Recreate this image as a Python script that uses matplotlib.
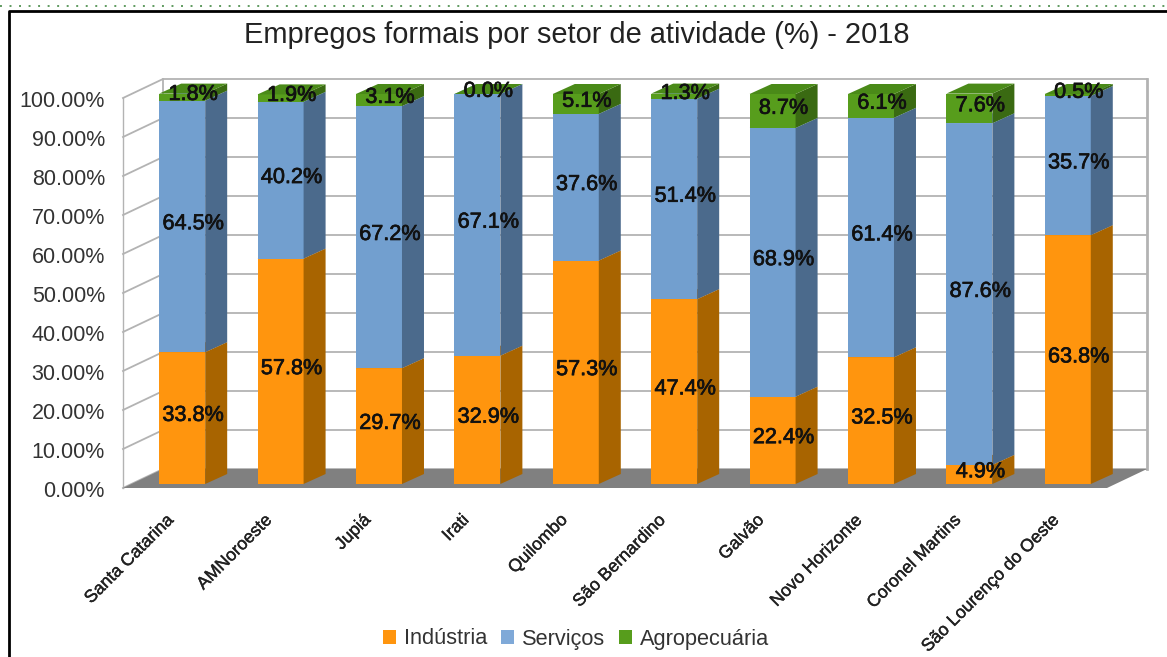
# Empregos formais por setor - fake 3D stacked bars

import matplotlib
matplotlib.use("Agg")
import matplotlib.pyplot as plt
import matplotlib.patheffects as pe
from matplotlib.patches import Polygon, Rectangle
from matplotlib.transforms import ScaledTranslation

W, H = 1167, 657

# === Data ===
regioes = ["Santa Catarina", "AMNoroeste", "Jupiá", "Irati", "Quilombo",
           "São Bernardino", "Galvão", "Novo Horizonte", "Coronel Martins",
           "São Lourenço do Oeste"]
industria = [33.8, 57.8, 29.7, 32.9, 57.3, 47.4, 22.4, 32.5, 4.9, 63.8]
servicos = [64.5, 40.2, 67.2, 67.1, 37.6, 51.4, 68.9, 61.4, 87.6, 35.7]
agropecuaria = [1.8, 1.9, 3.1, 0.0, 5.1, 1.3, 8.7, 6.1, 7.6, 0.5]
setores = ["Indústria", "Serviços", "Agropecuária"]
y_ticks = [0, 10, 20, 30, 40, 50, 60, 70, 80, 90, 100]

front = ["#ff950e", "#729fcf", "#579d1c"]
side = ["#a86400", "#4b6a8c", "#3a6a12"]
top = ["#e08000", "#86add8", "#4a8a18"]

plt.rcParams["font.family"] = "Liberation Sans"

fig = plt.figure(figsize=(W / 100, H / 100), dpi=100)
ax = fig.add_axes([123 / W, 1 - 488 / H, (1107 - 123) / W, (488 - 98) / H])
ax.set_xlim(-0.5, 9.5)
ax.set_ylim(0, 100)
ax.patch.set_visible(False)
for s in ax.spines.values():
    s.set_visible(False)

# depth of the box and of the bars, in data units
box_dx, box_dy = 40 / 98.4, 19 / 3.9
bar_off_x, bar_off_y = 9 / 98.4, 4 / 3.9
bar_dx, bar_dy = 22 / 98.4, 10 / 3.9
bar_w = 46 / 98.4

# === Walls ===
grid = "#b3b3b3"
for v in y_ticks:
    ax.plot([-0.5, -0.5 + box_dx, 9.5 + box_dx], [v, v + box_dy, v + box_dy],
            color=grid, lw=1.3, clip_on=False, zorder=1)
ax.plot([-0.5, -0.5], [0, 100], color=grid, lw=1, clip_on=False, zorder=1)
ax.plot([-0.5 + box_dx] * 2, [box_dy, 100 + box_dy], color=grid, lw=1.3, clip_on=False, zorder=1)
ax.plot([9.5 + box_dx] * 2, [box_dy, 100 + box_dy], color=grid, lw=2, clip_on=False, zorder=1)
ax.add_patch(Polygon([(-0.5, 0), (9.5, 0), (9.5 + box_dx, box_dy), (-0.5 + box_dx, box_dy)],
                     fc="#808080", ec="none", clip_on=False, zorder=2))

# === Bars ===
for i in range(len(regioes)):
    x0 = i - bar_w / 2 + bar_off_x + 0.01
    base = bar_off_y
    for k, vals in enumerate([industria, servicos, agropecuaria]):
        v = vals[i]
        z = 3 + k
        ax.add_patch(Rectangle((x0, base), bar_w, v, fc=front[k], ec="none", clip_on=False, zorder=z))
        ax.add_patch(Polygon([(x0 + bar_w, base), (x0 + bar_w + bar_dx, base + bar_dy),
                              (x0 + bar_w + bar_dx, base + bar_dy + v), (x0 + bar_w, base + v)],
                             fc=side[k], ec="none", clip_on=False, zorder=z))
        t = base + v
        ax.add_patch(Polygon([(x0, t), (x0 + bar_w, t), (x0 + bar_w + bar_dx, t + bar_dy),
                              (x0 + bar_dx, t + bar_dy)],
                             fc=top[k], ec="none", clip_on=False, zorder=z))
        ax.text(x0 + (bar_w + bar_dx) / 2, base + v / 2 + bar_dy / 2 - 0.6, f"{v:.1f}%",
                ha="center", va="center", fontsize=15.6, color="#111111", zorder=10,
                path_effects=[pe.withStroke(linewidth=0.5, foreground="#111111")])
        base = t

# === Axis text ===
ax.set_yticks(y_ticks)
ax.set_yticklabels([f"{v:.2f}%" for v in y_ticks], fontsize=15.5, color="#333333")
ax.set_xticks(range(len(regioes)))
ax.set_xticklabels(regioes, rotation=45, ha="right", rotation_mode="anchor",
                   fontsize=12.7, color="#222222")
ax.tick_params(axis="y", length=0, pad=13)
ax.tick_params(axis="x", length=0, pad=17)

# nudge tick labels a little (inches)
for lab in ax.get_yticklabels():
    lab.set_transform(lab.get_transform() + ScaledTranslation(0, -1 / 100, fig.dpi_scale_trans))
for lab in ax.get_xticklabels():
    lab.set_transform(lab.get_transform() + ScaledTranslation(-7 / 100, 0, fig.dpi_scale_trans))
    lab.set_path_effects([pe.withStroke(linewidth=0.3, foreground="#222222")])

fig.text(577 / W, 1 - 35 / H, "Empregos formais por setor de atividade (%) - 2018",
         ha="center", va="center", fontsize=20.9, color="#222222")

handles = [Rectangle((0, 0), 1, 1, fc=c, ec="none") for c in [front[0], "#7fa9d8", front[2]]]
fig.legend(handles, setores, loc="center", bbox_to_anchor=(576 / W, 1 - 639 / H), ncol=3,
           frameon=False, fontsize=15.7, handlelength=0.6, handleheight=0.6,
           handletextpad=0.35, columnspacing=0.65, labelcolor="#333333")

# === Page frame ===
fig.add_artist(plt.Line2D([0, 1], [1 - 6 / H] * 2, color="#5f9a5f", lw=1.4, ls=(0, (1, 3.9))))
fig.add_artist(plt.Line2D([9 / W, 9 / W, 1], [0, 1 - 10.5 / H, 1 - 10.5 / H], color="black", lw=2))

fig.savefig("out.png", dpi=100)
